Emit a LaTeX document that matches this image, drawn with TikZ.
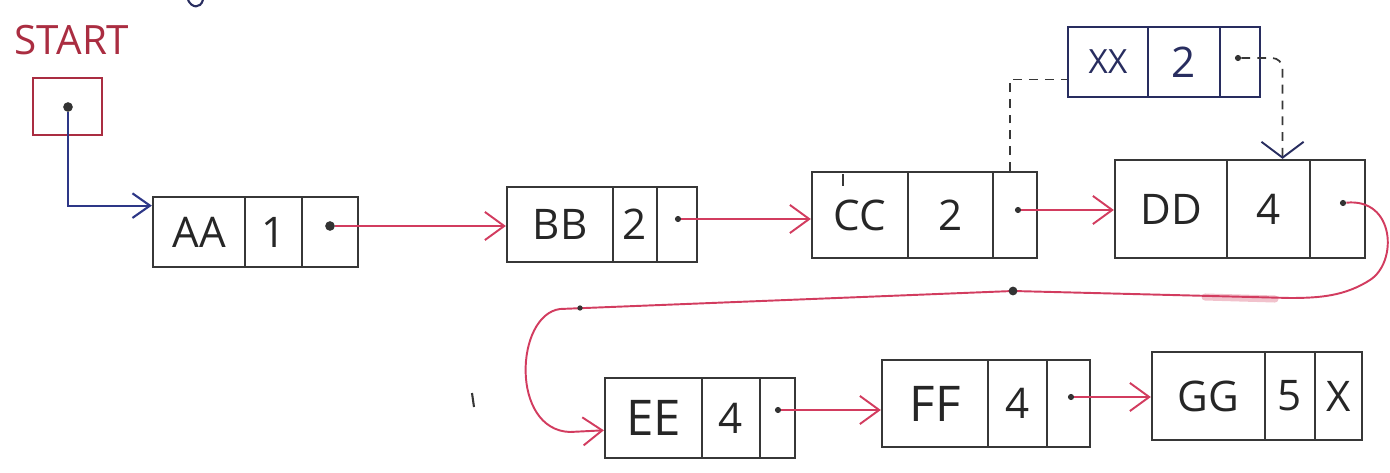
\documentclass[tikz,border=0pt]{standalone}
\usepackage{fontspec}
\setmainfont{Open Sans}
\usetikzlibrary{arrows.meta}

\definecolor{pencil}{RGB}{55,55,55}
\definecolor{inkred}{RGB}{210,60,95}
\definecolor{startred}{RGB}{170,45,65}
\definecolor{inkblue}{RGB}{45,55,135}
\definecolor{navy}{RGB}{40,45,95}

% one cell of a list node: [options] name, left x, right x, text
% (top and bottom of the row come from \rowtop and \rowbot)
\newcommand\cellnode[5][]{%
  \node[cellbox,#1,minimum width={(#4-#3)*0.02cm},minimum height={(\rowbot-\rowtop)*0.02cm}]
    (#2) at ({(#3+#4)/2},{(\rowtop+\rowbot)/2}) {#5};}

\tikzset{
  cellbox/.style={draw=pencil, line width=1.3pt, inner sep=0pt,
    font=\fontsize{24}{28}\selectfont, text=black!85},
  bigtext/.style={font=\fontsize{28}{32}\selectfont},
  smalltext/.style={font=\fontsize{19}{22}\selectfont},
  ptrdot/.style={circle, fill=black!80, inner sep=0pt, minimum size=3.5pt},
  link/.style={draw=inkred, line width=1.1pt,
    -{Straight Barb[length=11pt,width=16pt,line width=1.1pt]}},
  headlink/.style={draw=inkblue, line width=1.3pt,
    -{Straight Barb[length=10pt,width=14pt,line width=1.2pt]}},
  newlink/.style={draw=pencil, line width=1pt, dash pattern=on 5pt off 4pt},
}

\begin{document}
\begin{tikzpicture}[x=0.02cm,y=-0.02cm]
\useasboundingbox (0,0) rectangle (1390,473);

% head pointer
\node[font=\fontsize{23}{26}\selectfont, text=startred] (start-label) at (72,40) {START};
\node[draw=startred, line width=1.3pt, inner sep=0pt,
      minimum width={69*0.02cm}, minimum height={57*0.02cm}] (start) at (67.5,106.5) {};
\node[ptrdot, minimum size=5.5pt] (start-p) at (68,107) {};

% first row of the list
\def\rowtop{197}\def\rowbot{267}
\cellnode{aa-a}{153}{245}{AA}
\cellnode{aa-b}{245}{302}{1}
\cellnode{aa-c}{302}{358}{}
\node[ptrdot, minimum size=5.5pt] (aa-p) at (330,226) {};

\def\rowtop{187}\def\rowbot{262}
\cellnode{bb-a}{507}{613}{BB}
\cellnode{bb-b}{613}{657}{2}
\cellnode{bb-c}{657}{697}{}
\node[ptrdot] (bb-p) at (678,219) {};

\def\rowtop{172}\def\rowbot{258}
\cellnode{cc-a}{812}{908}{CC}
\cellnode{cc-b}{908}{993}{2}
\cellnode{cc-c}{993}{1037}{}
\node[ptrdot] (cc-p) at (1018,210) {};

\def\rowtop{160}\def\rowbot{258}
\cellnode{dd-a}{1115}{1227}{DD}
\cellnode{dd-b}{1227}{1310}{4}
\cellnode{dd-c}{1310}{1365}{}
\node[ptrdot] (dd-p) at (1343,203) {};

% inserted node
\def\rowtop{27}\def\rowbot{97}
\cellnode[draw=navy, text=navy, smalltext]{xx-a}{1068}{1148}{XX}
\cellnode[draw=navy, text=navy]{xx-b}{1148}{1220}{2}
\cellnode[draw=navy]{xx-c}{1220}{1260}{}
\node[ptrdot] (xx-p) at (1238,58) {};

% second row of the list
\def\rowtop{378}\def\rowbot{458}
\cellnode[bigtext]{ee-a}{605}{702}{EE}
\cellnode{ee-b}{702}{760}{4}
\cellnode{ee-c}{760}{795}{}
\node[ptrdot] (ee-p) at (778,410) {};

\def\rowtop{360}\def\rowbot{447}
\cellnode[bigtext]{ff-a}{882}{988}{FF}
\cellnode{ff-b}{988}{1047}{4}
\cellnode{ff-c}{1047}{1090}{}
\node[ptrdot] (ff-p) at (1071,397) {};

\def\rowtop{352}\def\rowbot{440}
\cellnode{gg-a}{1152}{1265}{GG}
\cellnode{gg-b}{1265}{1315}{5}
\cellnode{gg-c}{1315}{1362}{X}

% links
\draw[headlink] (start-p) |- ([yshift=15pt]aa-a.west);
\draw[link] (aa-p) -- (aa-p -| bb-a.west);
\draw[link] (bb-p) -- (bb-p -| cc-a.west);
\draw[link] (cc-p) -- (cc-p -| dd-a.west);

% link from DD wrapping round to the second row
\coordinate (bend-r) at (1290,298);
\coordinate (mid-dot) at (1013,291);
\coordinate (bend-l) at (560,309);
\draw[inkred!70, line width=4pt, line cap=round, opacity=0.45] (1205,297) -- (1275,299);
\draw[link] (dd-p) .. controls (1395,198) and (1398,262) .. (1370,280)
  .. controls (1345,296) and (1320,298) .. (bend-r) -- (mid-dot) -- (bend-l)
  .. controls (515,315) and (510,430) .. (570,432) -- ([yshift=-7pt]ee-a.west);
\node[ptrdot, minimum size=5pt] (line-dot) at (mid-dot) {};
\node[ptrdot, minimum size=3pt] (bend-dot) at (580,308) {};

\draw[link] (ee-p) -- (ee-p -| ff-a.west);
\draw[link] (ff-p) -- (ff-p -| gg-a.west);

% insertion of XX between CC and DD
\draw[newlink] ([xshift=-3pt]cc-c.north) |- ([yshift=-10pt]xx-a.west);
\draw[newlink, rounded corners=6pt,
      -{Straight Barb[length=9pt,width=24pt,line width=1.1pt,color=navy]}]
  (xx-p) -| ([xshift=8pt]dd-b.north);

% pencil marks on the sheet
\draw[pencil, line width=1.2pt] (843,174) -- (843,186);
\draw[pencil, line width=1.2pt] (472,393) -- (474,407);
\draw[navy, line width=1.2pt] (188,0) .. controls (192,8) and (200,9) .. (203,0);
\end{tikzpicture}
\end{document}
